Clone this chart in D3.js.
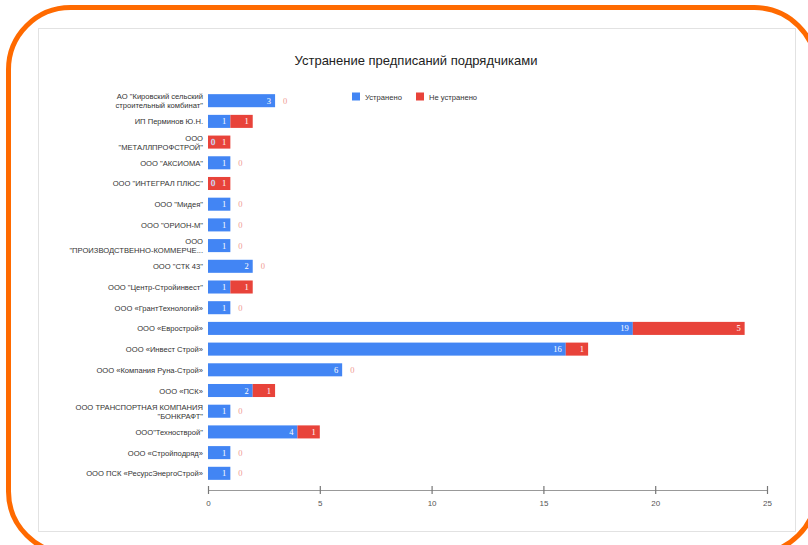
<!DOCTYPE html>
<html>
<head>
<meta charset="utf-8">
<script src="https://cdn.jsdelivr.net/npm/d3@7"></script>
<style>
  body { margin: 0; background: #fff; }
  svg { display: block; font-family: "Liberation Sans", Arial, sans-serif; }
</style>
</head>
<body>
<div id="chart"></div>
<script>
// data
const companies = [
  "АО \"Кировский сельский\nстроительный комбинат\"",
  "ИП Перминов Ю.Н.",
  "ООО\n\"МЕТАЛЛПРОФСТРОЙ\"",
  "ООО \"АКСИОМА\"",
  "ООО \"ИНТЕГРАЛ ПЛЮС\"",
  "ООО \"Мидея\"",
  "ООО \"ОРИОН-М\"",
  "ООО\n\"ПРОИЗВОДСТВЕННО-КОММЕРЧЕ...",
  "ООО \"СТК 43\"",
  "ООО \"Центр-Стройинвест\"",
  "ООО «ГрантТехнологий»",
  "ООО «Еврострой»",
  "ООО «Инвест Строй»",
  "ООО «Компания Руна-Строй»",
  "ООО «ПСК»",
  "ООО ТРАНСПОРТНАЯ КОМПАНИЯ\n\"БОНКРАФТ\"",
  "ООО\"Техностврой\"",
  "ООО «Стройподряд»",
  "ООО ПСК «РесурсЭнергоСтрой»"
];
const fixed    = [3, 1, 0, 1, 0, 1, 1, 1, 2, 1, 1, 19, 16, 6, 2, 1, 4, 1, 1];
const notFixed = [0, 1, 1, 0, 1, 0, 0, 0, 0, 1, 0, 5, 1, 0, 1, 0, 1, 0, 0];
const seriesNames = ["Устранено", "Не устранено"];
const xTicks = [0, 5, 10, 15, 20, 25];

const colors = ["#4285f4", "#e8433a"];

const W = 808, H = 545;
const svg = d3.select("#chart").append("svg")
  .attr("width", W).attr("height", H);

// orange rounded frame and white card
svg.append("rect")
  .attr("x", 8.5).attr("y", 7.5).attr("width", 808).attr("height", 546)
  .attr("rx", 62).attr("ry", 62)
  .attr("fill", "#fff").attr("stroke", "#ff6a00").attr("stroke-width", 5);

svg.append("rect")
  .attr("x", 38.5).attr("y", 28.5).attr("width", 757).attr("height", 503)
  .attr("fill", "#fff").attr("stroke", "#e2e2e2").attr("stroke-width", 1);

// title
svg.append("text")
  .attr("x", 416).attr("y", 65)
  .attr("text-anchor", "middle")
  .attr("font-size", 13).attr("fill", "#222")
  .text("Устранение предписаний подрядчиками");

const rows = companies.map((c, i) => ({ name: c, a: fixed[i], b: notFixed[i] }));

const x = d3.scaleLinear().domain([0, 25]).range([208, 767]);
const y = d3.scaleBand().domain(companies).range([86.5, 487.5]).padding(0.37);

// category labels
const lab = svg.append("g");
rows.forEach(d => {
  const lines = d.name.split("\n");
  const cy = y(d.name) + y.bandwidth() / 2;
  const t = lab.append("text")
    .attr("x", 203).attr("y", cy - (lines.length - 1) * 4.5 + 3)
    .attr("text-anchor", "end").attr("font-size", 7.6).attr("fill", "#333");
  lines.forEach((l, j) => t.append("tspan").attr("x", 203).attr("dy", j ? 9 : 0).text(l));
});

// bars
const g = svg.append("g");
g.selectAll(".fixed").data(rows).join("rect")
  .attr("x", x(0)).attr("y", d => y(d.name))
  .attr("width", d => x(d.a) - x(0)).attr("height", y.bandwidth())
  .attr("fill", colors[0]);
g.selectAll(".notfixed").data(rows).join("rect")
  .attr("x", d => x(d.a)).attr("y", d => y(d.name))
  .attr("width", d => x(d.a + d.b) - x(d.a)).attr("height", y.bandwidth())
  .attr("fill", colors[1]);

// value labels
const vl = svg.append("g").attr("font-size", 8.5).attr("font-family", "'Liberation Serif', serif");
rows.forEach(d => {
  const cy = y(d.name) + y.bandwidth() / 2 + 3;
  if (d.a > 0) {
    vl.append("text").attr("x", x(d.a) - 4).attr("y", cy)
      .attr("text-anchor", "end").attr("fill", "#fff").text(d.a);
  } else {
    vl.append("text").attr("x", x(0) + 3).attr("y", cy)
      .attr("fill", "#fff").attr("stroke", "#b9c9f5").attr("stroke-width", 0.4).text(d.a);
  }
  if (d.b > 0) {
    vl.append("text").attr("x", x(d.a + d.b) - 4).attr("y", cy)
      .attr("text-anchor", "end").attr("fill", "#fff").text(d.b);
  } else {
    vl.append("text").attr("x", x(d.a) + 8).attr("y", cy)
      .attr("fill", "#f09a94").text(d.b);
  }
});

// x axis
const ax = svg.append("g").attr("transform", "translate(0,490)")
  .call(d3.axisBottom(x).tickValues(xTicks).tickSize(0).tickPadding(10));
ax.select(".domain").attr("stroke", "#999").attr("stroke-width", 1.2);
ax.selectAll(".tick line").attr("y1", -4).attr("y2", 4).attr("stroke", "#777").attr("stroke-width", 1.2);
ax.selectAll(".tick text").attr("font-size", 8).attr("fill", "#555")
  .attr("font-family", "'Liberation Sans', Arial, sans-serif");

// legend
const leg = svg.append("g").attr("font-size", 7.6).attr("fill", "#333");
const legX = [352, 416];
seriesNames.forEach((s, i) => {
  leg.append("rect").attr("x", legX[i]).attr("y", 92.5).attr("width", 8).attr("height", 8)
    .attr("fill", colors[i]);
  leg.append("text").attr("x", legX[i] + 13).attr("y", 99.5).text(s);
});
</script>
</body>
</html>
